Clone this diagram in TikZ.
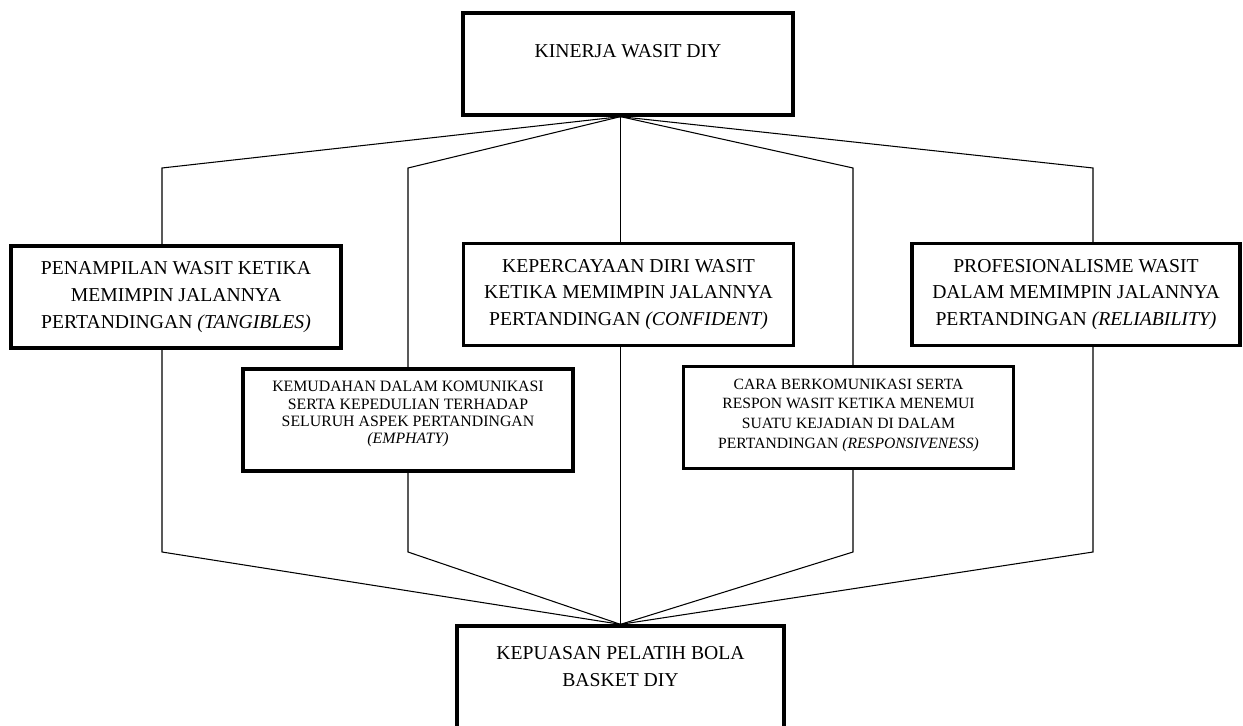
\documentclass[tikz,border=0pt]{standalone}
\usepackage{fontspec}
\setmainfont{Liberation Serif}
\usetikzlibrary{positioning,backgrounds}

\tikzset{
  box/.style={draw, line width=1.9pt, fill=white, inner sep=0pt,
    minimum width=6.6cm, minimum height=2.04cm, align=center,
    font=\fontsize{11.2}{15.3}\selectfont},
  txt/.style={inner sep=0pt, align=center, font=\fontsize{11.2}{15.3}\selectfont},
  smalltxt/.style={txt, font=\fontsize{9}{9.7}\selectfont},
  midtxt/.style={txt, font=\fontsize{8.9}{11.2}\selectfont},
  link/.style={line width=0.6pt},
}

\begin{document}
\begin{tikzpicture}[x=0.02cm, y=-0.02cm]
  % ==== DEFINITIONS ====
  \def\bendtop{168} % upper bend of the side lines
  \def\bendbot{552} % lower bend of the side lines

  \useasboundingbox (0,0) rectangle (1243,726);

  % ==== TOP AND BOTTOM BOXES ====
  \node[box] (kinerja) at (628,64) {};
  \node[txt, below=0.66cm of kinerja.north] (kinerjatxt) {KINERJA WASIT DIY};
  \node[box, minimum width=6.54cm, minimum height=2.28cm] (kepuasan) at (620.5,683) {};
  \node[txt, below=0.44cm of kepuasan.north] (kepuasantxt) {KEPUASAN PELATIH BOLA\\BASKET DIY};

  % ==== DIMENSION BOXES ====
  \node[box] (tangibles) at (176,297) {PENAMPILAN WASIT KETIKA\\MEMIMPIN JALANNYA\\PERTANDINGAN \textit{(TANGIBLES)}};
  \node[box] (confident) at (628.5,294.5) {KEPERCAYAAN DIRI WASIT\\KETIKA MEMIMPIN JALANNYA\\PERTANDINGAN \textit{(CONFIDENT)}};
  \node[box, minimum width=6.56cm] (reliability) at (1076,294.5) {PROFESIONALISME WASIT\\DALAM MEMIMPIN JALANNYA\\PERTANDINGAN \textit{(RELIABILITY)}};
  \node[box] (emphaty) at (408,420) {};
  \node[smalltxt] (emphatytxt) at ([yshift=0.12cm]emphaty.center) {KEMUDAHAN DALAM KOMUNIKASI\\SERTA KEPEDULIAN TERHADAP\\SELURUH ASPEK PERTANDINGAN\\\textit{(EMPHATY)}};
  \node[box] (responsiveness) at (848.5,417.5) {};
  \node[midtxt] (responsivenesstxt) at ([yshift=0.05cm]responsiveness.center) {CARA BERKOMUNIKASI SERTA\\RESPON WASIT KETIKA MENEMUI\\SUATU KEJADIAN DI DALAM\\PERTANDINGAN \textit{(RESPONSIVENESS)}};

  % ==== CONNECTORS ====
  \coordinate (fan) at (kinerja.south -| kepuasan.north);
  \begin{scope}[on background layer]
    \draw[link] (fan) -- (kepuasan.north);
    \foreach \cx in {162,408,853,1093}
      \draw[link] (fan) -- (\cx,\bendtop) -- (\cx,\bendbot) -- (kepuasan.north);
  \end{scope}
\end{tikzpicture}
\end{document}
